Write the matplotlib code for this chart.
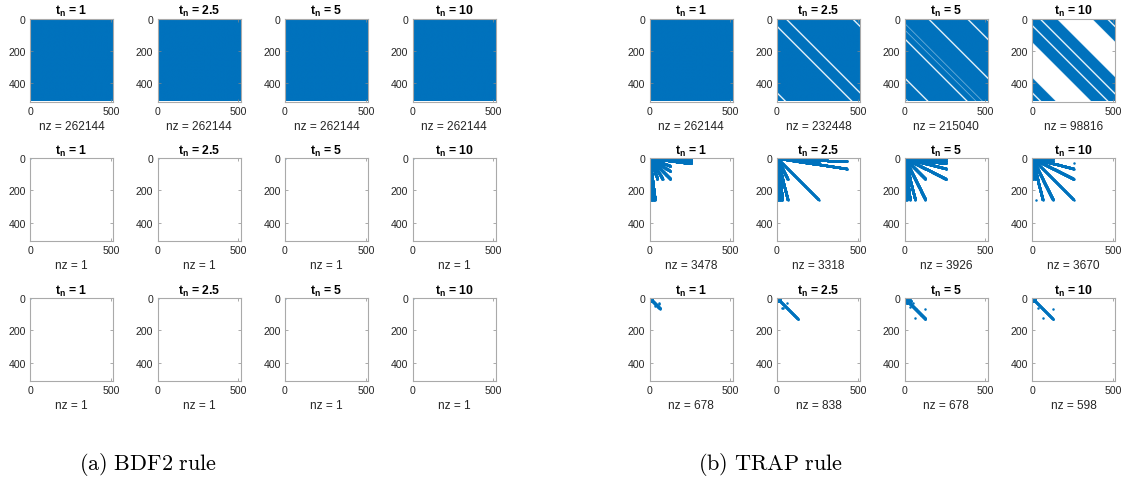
import numpy as np
import matplotlib
matplotlib.use("Agg")
import matplotlib.pyplot as plt
from matplotlib.colors import ListedColormap

plt.rcParams['font.family'] = ['Liberation Sans', 'DejaVu Sans']
plt.rcParams['mathtext.fontset'] = 'custom'
plt.rcParams['mathtext.rm'] = 'Liberation Sans'
plt.rcParams['mathtext.bf'] = 'Liberation Sans:bold'
plt.rcParams['mathtext.it'] = 'Liberation Sans:italic'

# ---------------- data ----------------
N = 512
t_labels = ['1', '2.5', '5', '10']
captions = [r'$\mathrm{(a)\ BDF2\ rule}$', r'$\mathrm{(b)\ TRAP\ rule}$']

nz_bdf2 = [[262144, 262144, 262144, 262144], [1, 1, 1, 1], [1, 1, 1, 1]]
nz_trap = [[262144, 232448, 215040, 98816], [3478, 3318, 3926, 3670], [678, 838, 678, 598]]

# TRAP, row 1: dense matrices with zero diagonals (offset j-i, width in diagonals)
trap1_zero_lines = [
    [],
    [(51, 12), (-51, 12), (461, 12), (-461, 12)],
    [(140, 12), (-130, 12), (380, 12), (-372, 12), (-35, 3), (-75, 3), (495, 6), (-495, 6)],
    [(45, 12), (-45, 12), (460, 12), (-460, 12)],
]
trap1_zero_bands = [[], [], [], [(148, 366), (-366, -148)]]

# TRAP, row 2: rays from the origin, (row, col) end points
trap2_rays = [
    [(0, 256), (4, 256), (8, 256), (12, 256), (16, 256), (20, 256), (24, 256), (28, 256), (32, 256),
     (48, 128), (80, 128), (128, 128), (128, 80), (128, 48),
     (256, 0), (256, 4), (256, 8), (256, 12), (256, 16), (256, 20), (256, 24), (256, 28), (256, 32)],
    [(0, 256), (4, 256), (8, 256), (12, 256), (16, 256), (20, 256), (24, 256),
     (20, 430), (64, 430), (128, 128), (256, 256), (128, 64),
     (256, 0), (256, 4), (256, 8), (256, 12), (256, 16), (256, 20), (256, 24), (256, 28), (256, 32), (256, 64)],
    [(0, 256), (8, 256), (16, 256), (32, 256), (64, 256), (128, 256), (128, 128),
     (256, 0), (256, 8), (256, 16), (256, 32), (256, 64), (256, 128)],
    [(0, 128), (8, 128), (16, 128), (64, 256), (128, 256), (256, 256),
     (128, 0), (128, 8), (128, 16), (256, 64), (256, 128)],
]
trap2_dots = [[], [], [], [(32, 256), (256, 24)]]

# TRAP, row 3: dense block at origin, rays, isolated points
trap3_block = [18, 18, 18, 18]
trap3_rays = [[(64, 64)], [(128, 128)], [(128, 128), (32, 16), (16, 40), (40, 40)], [(128, 128)]]
trap3_dots = [
    [(28, 56), (48, 36), (56, 50), (36, 60)],
    [(28, 60), (58, 36), (60, 28)],
    [(64, 124), (124, 64), (30, 52), (52, 30)],
    [(60, 36), (64, 128), (124, 64)],
]

BLUE = '#0072BD'
GRAY_TXT = '#262626'

# ---------------- layout ----------------
W, H = 1129, 485
lefts = [30, 157.5, 285, 412.5, 649.5, 777, 904.5, 1032]
tops = [19.5, 159, 299]
size = 83

fig = plt.figure(figsize=(W / 100, H / 100), dpi=100)

ii, jj = np.mgrid[0:N, 0:N]
dmat = jj - ii


def style(ax, nz, t):
    ax.set_xlim(0, N + 1)
    ax.set_ylim(N + 1, 0)
    ax.set_xticks([0, 500])
    ax.set_yticks([0, 200, 400])
    ax.tick_params(direction='in', length=2.5, width=0.5, color='#888888',
                   labelsize=7.6, labelcolor=GRAY_TXT, pad=3, top=True, right=True)
    for s in ax.spines.values():
        s.set_color('#aaaaaa')
        s.set_linewidth(0.8)
    ax.set_title(r'$\mathbf{t_n}$ = ' + t, fontsize=8.8, fontweight='bold', pad=3, color='black')
    ax.set_xlabel(f'nz = {nz}', fontsize=8.6, color=GRAY_TXT, labelpad=3)


def dense(ax, M):
    ax.imshow(M, cmap=ListedColormap(['white', BLUE]), vmin=0, vmax=1,
              extent=(0.5, N + 0.5, N + 0.5, 0.5), interpolation='antialiased',
              aspect='auto')


def sparse_points(rays, dots, block=0):
    M = np.zeros((N, N), dtype=bool)
    for (r, c) in rays:
        n = max(r, c) + 1
        rr = np.round(np.linspace(0, r, n)).astype(int)
        cc = np.round(np.linspace(0, c, n)).astype(int)
        M[np.clip(rr, 0, N - 1), np.clip(cc, 0, N - 1)] = True
    for (r, c) in dots:
        M[r, c] = True
    if block:
        M[:block, :block] = True
    r, c = np.nonzero(M)
    return r + 1, c + 1


def sparse(ax, rows, cols):
    ax.plot(cols, rows, 'o', ms=1.8, mew=0, color=BLUE)


for g in range(2):
    for row in range(3):
        for k in range(4):
            left = lefts[g * 4 + k]
            top = tops[row]
            ax = fig.add_axes([left / W, 1 - (top + size) / H, size / W, size / H])
            if g == 0:
                nz = nz_bdf2[row][k]
                if row == 0:
                    dense(ax, np.ones((N, N)))
                else:
                    sparse(ax, np.array([1]), np.array([1]))
            else:
                nz = nz_trap[row][k]
                if row == 0:
                    M = np.ones((N, N))
                    for off, w in trap1_zero_lines[k]:
                        M[np.abs(dmat - off) < w / 2] = 0
                    for a, b in trap1_zero_bands[k]:
                        M[(dmat >= a) & (dmat <= b)] = 0
                    dense(ax, M)
                elif row == 1:
                    r, c = sparse_points(trap2_rays[k], trap2_dots[k])
                    sparse(ax, r, c)
                else:
                    r, c = sparse_points(trap3_rays[k], trap3_dots[k], trap3_block[k])
                    sparse(ax, r, c)
            style(ax, nz, t_labels[k])

cap_x = [148, 771]
for x, txt in zip(cap_x, captions):
    fig.text(x / W, 1 - 465 / H, txt, ha='center', va='center', fontsize=16,
             math_fontfamily='cm')

fig.savefig('out.png', dpi=100)
